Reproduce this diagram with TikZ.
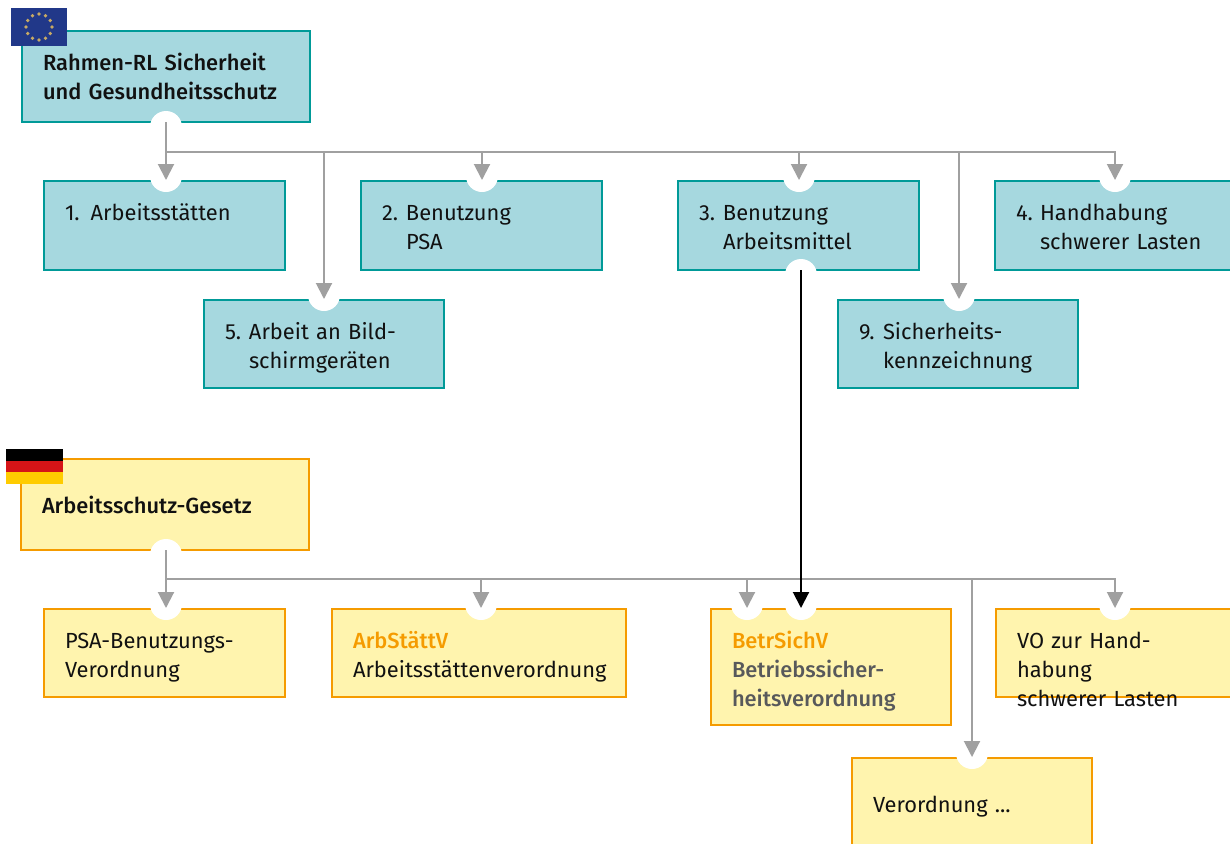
\documentclass[tikz,border=0pt]{standalone}
\usepackage{fontspec}
\setmainfont{Fira Sans}[BoldFont={Fira Sans Medium}]
\usetikzlibrary{positioning, arrows.meta}
\definecolor{tealfill}{HTML}{A6D8DF}
\definecolor{tealline}{HTML}{009A98}
\definecolor{yellowfill}{HTML}{FFF4AE}
\definecolor{orangeline}{HTML}{F59B00}
\definecolor{feedgray}{HTML}{A0A0A0}
\definecolor{textgray}{HTML}{58595B}
\definecolor{textblack}{HTML}{111111}
\definecolor{eublue}{HTML}{213889}
\definecolor{eustar}{HTML}{C8AA64}
\definecolor{dered}{HTML}{D61417}
\definecolor{degold}{HTML}{FFCC00}
\newcommand{\hangnum}[3]{\makebox[18pt][l]{#1}#2\\\hspace*{18pt}#3}
\tikzset{
  box/.style 2 args={anchor=north west, inner xsep=15.75pt, inner ysep=0pt, align=left,
    text width=#1*0.75pt-31.5pt, text height=29.25pt, text depth=#2*0.75pt-29.25pt, outer sep=0pt,
    line width=1.5pt, text=textblack, font=\fontsize{16.4}{22}\selectfont},
  eubox/.style={fill=tealfill, draw=tealline},
  debox/.style={fill=yellowfill, draw=orangeline},
  notch/.style={circle, fill=white, inner sep=0pt, minimum size=24pt},
  feed/.style={draw=feedgray, line width=1.5pt, -{Triangle[width=12pt, length=12pt]}, shorten >=-3pt},
  feedblack/.style={feed, draw=black},
}

\begin{document}
\begin{tikzpicture}[x=0.75pt, y=-0.75pt]
      \useasboundingbox (0,0) rectangle (1230,843);
      \clip (0,0) rectangle (1230,843);

      % upper part
      \node[box={288}{91},eubox]     (rahmen) at (22,31)   {\textbf{Rahmen-RL Sicherheit}\\\textbf{und Gesundheitsschutz}};
      \node[box={241}{89},eubox]     (b1) at (44,181)      {1. Arbeitsstätten};
      \node[box={241}{89},eubox]     (b2) at (361,181)     {\hangnum{2.}{Benutzung}{PSA}};
      \node[box={241}{89},eubox]     (b3) at (678,181)     {\hangnum{3.}{Benutzung}{Arbeitsmittel}};
      \node[box={241}{89},eubox]     (b4) at (995,181)     {\hangnum{4.}{Handhabung}{schwerer Lasten}};
      \node[box={240}{88},eubox]     (b5) at (204,300)     {\hangnum{5.}{Arbeit an Bild-}{schirmgeräten}};
      \node[box={240}{88},eubox]     (b9) at (838,300)     {\hangnum{9.}{Sicherheits-}{kennzeichnung}};

      % lower part
      \node[box={288}{91},debox,text height=41pt,text depth=27.25pt] (gesetz) at (21,459)  {\textbf{Arbeitsschutz-Gesetz}};
      \node[box={241}{88},debox]     (psa) at (44,609)     {PSA-Benutzungs-\\Verordnung};
      \node[box={294}{88},debox]     (arb) at (332,609)    {\textbf{\textcolor{orangeline}{ArbStättV}}\\Arbeitsstättenverordnung};
      \node[box={240}{116},debox]    (betr) at (711,609)   {\textbf{\textcolor{orangeline}{BetrSichV}}\\\textcolor{textgray}{\textbf{Betriebssicher-}}\\\textcolor{textgray}{\textbf{heitsverordnung}}};
      \node[box={240}{88},debox]     (vo) at (996,609)     {VO zur Handhabung\\schwerer Lasten};
      \node[box={240}{100},debox,text height=41pt,text depth=34pt] (vor) at (852,758) {Verordnung ...};

      % white notches
      \node[notch] (outeu) at (166,127) {};
      \node[notch] (in1) at (166,176) {};
      \node[notch] (in2) at (482,176) {};
      \node[notch] (in3) at (799,176) {};
      \node[notch] (in4) at (1115,176) {};
      \node[notch] (in5) at (324,295) {};
      \node[notch] (in9) at (959,295) {};
      \node[notch] (out3) at (801,275) {};
      \node[notch] (outde) at (166,555) {};
      \node[notch] (inpsa) at (166,604) {};
      \node[notch] (inarb) at (481,604) {};
      \node[notch] (inbetr) at (747,604) {};
      \node[notch] (inlink) at (801,604) {};
      \node[notch] (invo) at (1115,604) {};
      \node[notch] (invor) at (972,753) {};

      \coordinate (trunkeu) at (166,152);
      \coordinate (trunkde) at (166,579);

      % connectors
      \draw[feed, shorten <=-3.75pt] (outeu.center) -- (in1.center);
      \foreach \n in {in2,in3,in4,in5,in9}
        \draw[feed] (trunkeu) -| (\n.center);
      \draw[feed, shorten <=-3.75pt] (outde.center) -- (inpsa.center);
      \foreach \n in {inarb,inbetr,invo,invor}
        \draw[feed] (trunkde) -| (\n.center);
      \draw[feedblack, shorten <=-3.75pt] (out3.center) -- (inlink.center);

      % flags
      \fill[eublue] (11,8) rectangle (67,46);
      \foreach \a in {0,30,...,330}
        \fill[eustar] (39,27) ++(\a:13) circle (1.9);
      \fill[black] (6,449) rectangle (63,461);
      \fill[dered] (6,461) rectangle (63,472);
      \fill[degold] (6,472) rectangle (63,484);
\end{tikzpicture}
\end{document}
